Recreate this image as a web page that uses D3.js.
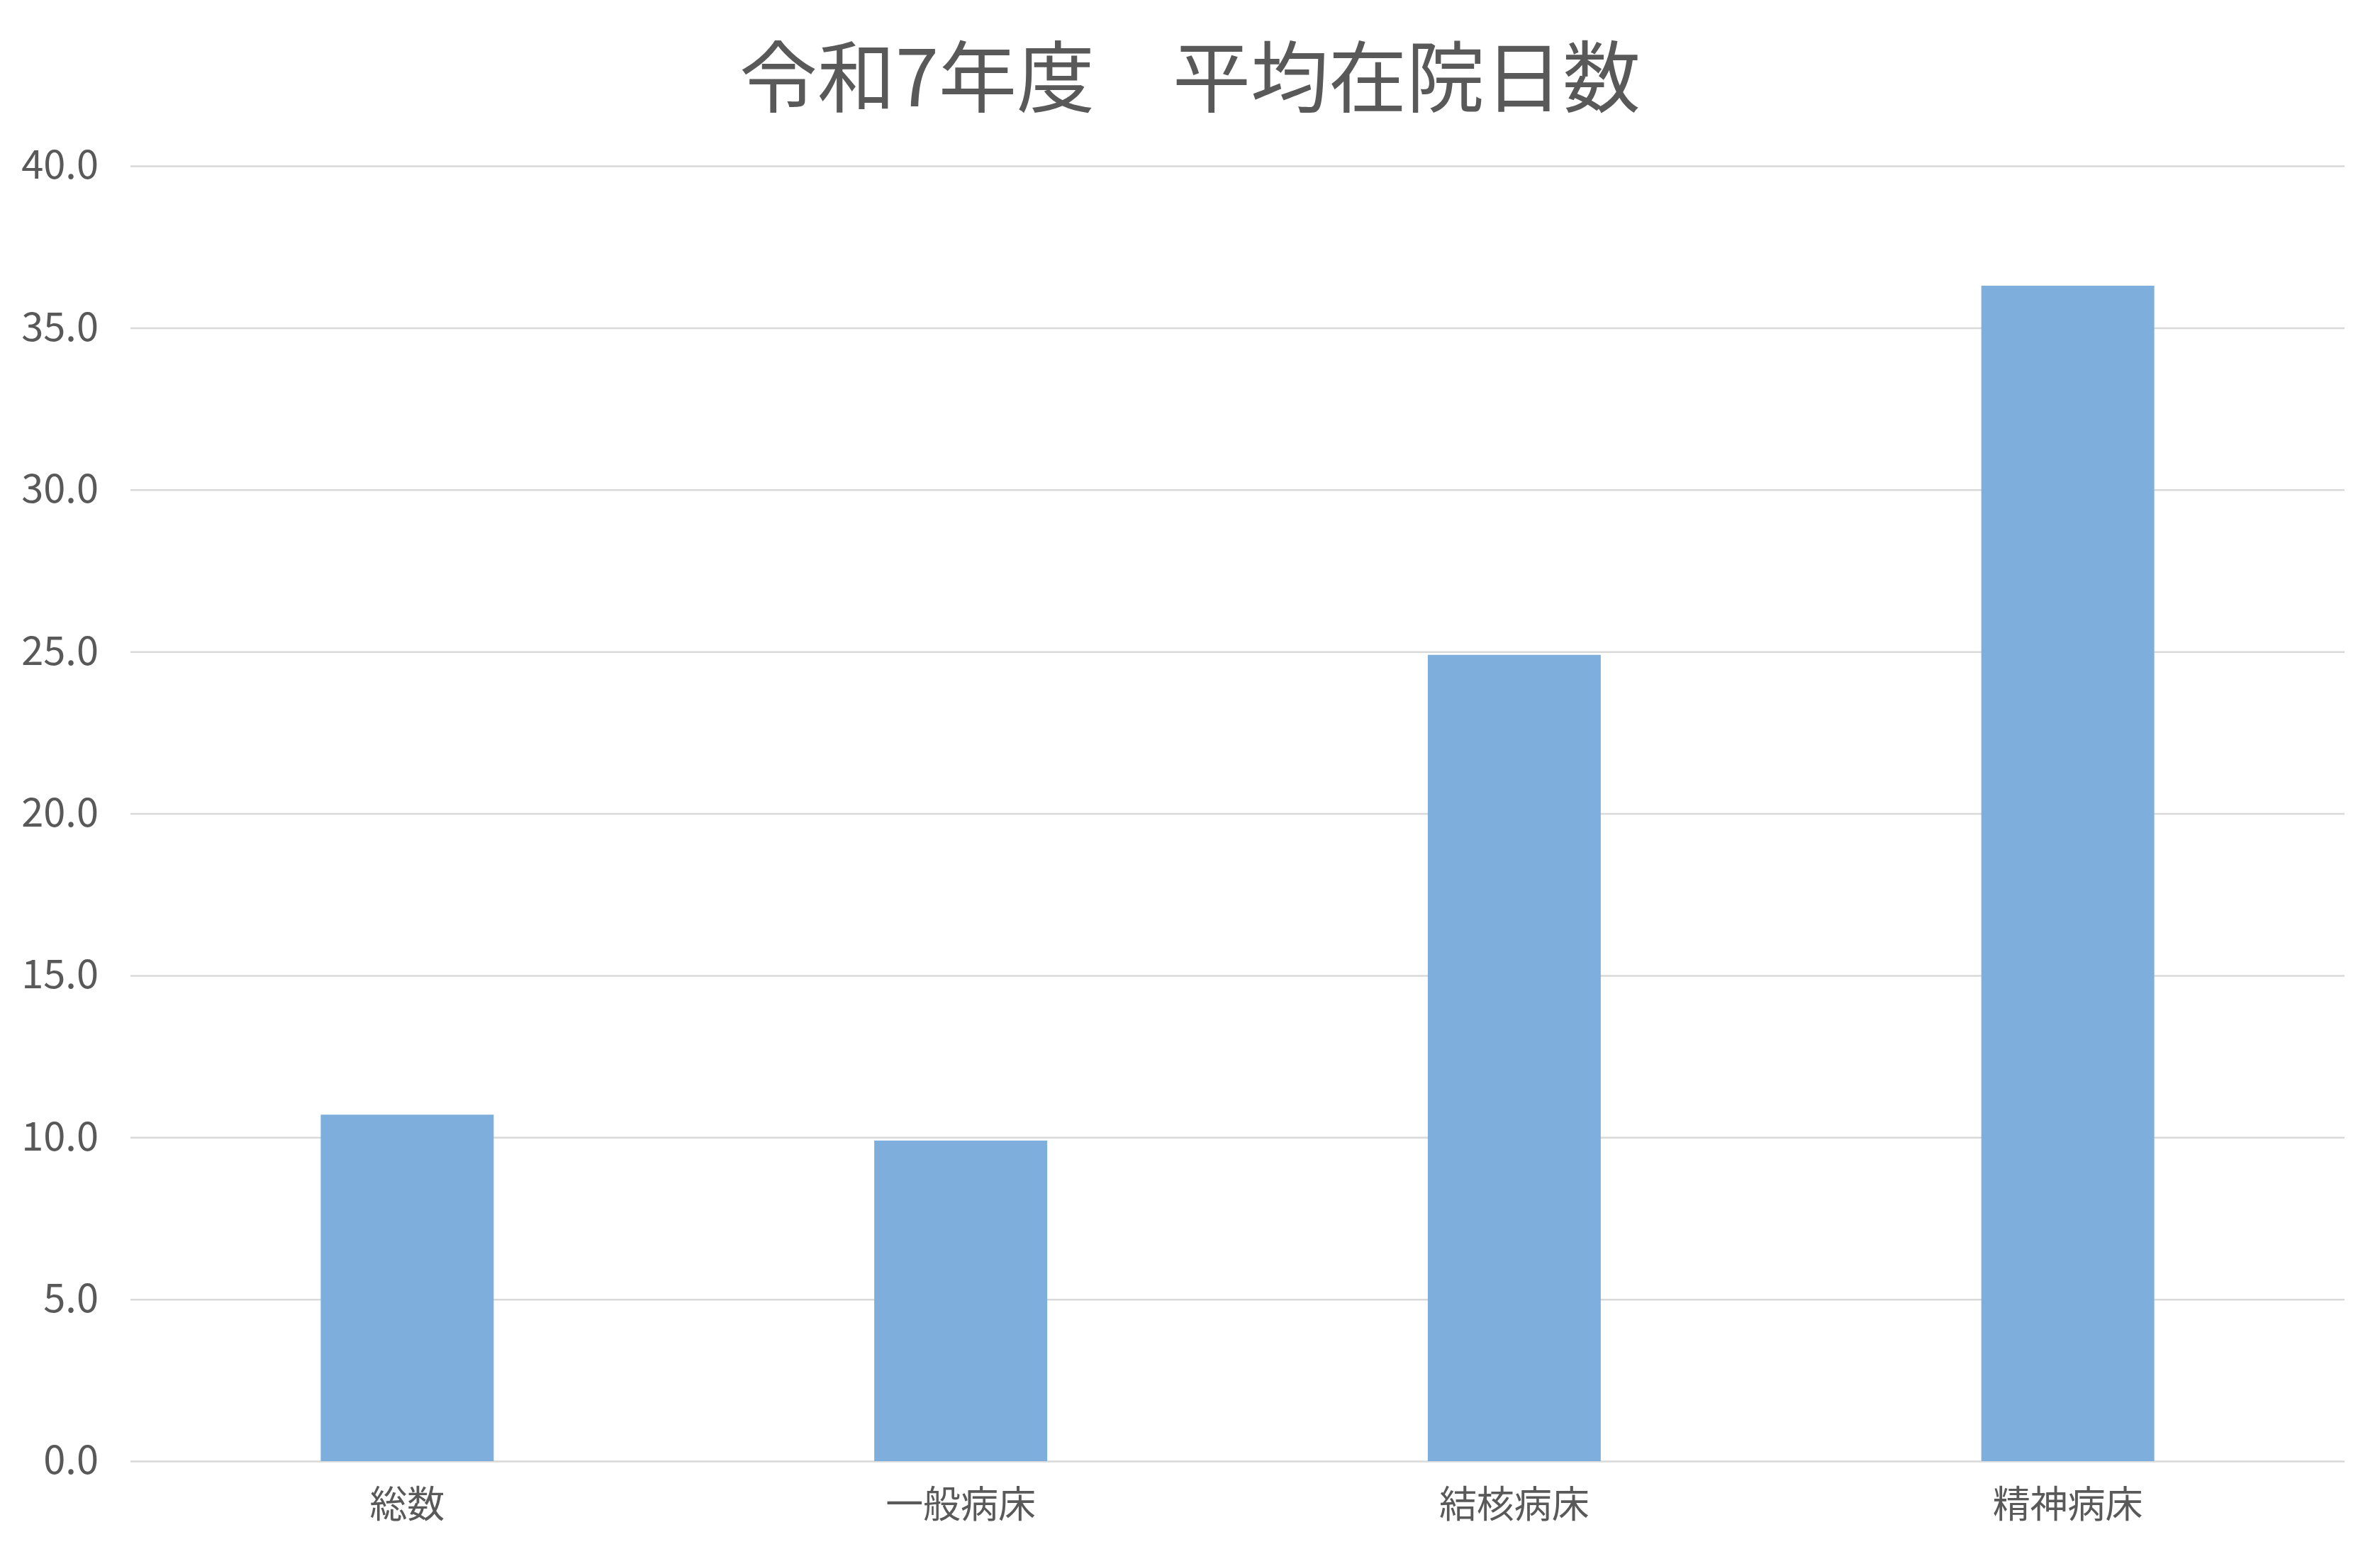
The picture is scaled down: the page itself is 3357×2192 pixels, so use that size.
<!DOCTYPE html>
<html>
<head>
<meta charset="utf-8">
<script src="https://cdn.jsdelivr.net/npm/d3@7"></script>
<style>
  html, body { margin: 0; padding: 0; background: #ffffff; }
  svg { display: block; }
</style>
</head>
<body>
<script>
const titleText = "令和7年度　平均在院日数";
const categories = ["総数", "一般病床", "結核病床", "精神病床"];
const values = [10.7, 9.9, 24.9, 36.3];
const yTicks = [0, 5, 10, 15, 20, 25, 30, 35, 40];

const W = 3357, H = 2192;
const plotLeft = 184, plotRight = 3307, plotTop = 234, plotBottom = 2061;
const font = "'Noto Sans CJK JP', 'Noto Sans', sans-serif";
const textColor = "#595959";

const svg = d3.select("body").append("svg")
  .attr("width", W).attr("height", H)
  .attr("viewBox", `0 0 ${W} ${H}`);

svg.append("rect").attr("width", W).attr("height", H).attr("fill", "#ffffff");

const x = d3.scaleBand().domain(categories).range([plotLeft, plotRight])
  .paddingInner(0.6875).paddingOuter(0.34375);
const y = d3.scaleLinear().domain([0, 40]).range([plotBottom, plotTop]);

// gridlines + y tick labels
const yAxis = svg.append("g")
  .attr("transform", `translate(${plotLeft},0)`)
  .call(d3.axisLeft(y).tickValues(yTicks).tickFormat(d3.format(".1f"))
    .tickSize(-(plotRight - plotLeft)).tickPadding(45));
yAxis.select(".domain").remove();
yAxis.selectAll(".tick line").attr("stroke", "#d9d9d9").attr("stroke-width", 2.5);
yAxis.selectAll(".tick text")
  .attr("fill", textColor)
  .style("font-family", font)
  .style("font-size", "56px");

// bars
svg.append("g").selectAll("rect").data(categories).join("rect")
  .attr("x", d => x(d))
  .attr("width", x.bandwidth())
  .attr("y", (d, i) => y(values[i]))
  .attr("height", (d, i) => y(0) - y(values[i]))
  .attr("fill", "#7daedc");

// x axis labels
const xAxis = svg.append("g")
  .attr("transform", `translate(0,${plotBottom})`)
  .call(d3.axisBottom(x).tickSize(0).tickPadding(42));
xAxis.select(".domain").remove();
xAxis.selectAll(".tick text")
  .attr("fill", textColor)
  .style("font-family", font)
  .style("font-size", "53px");

// title
svg.append("text")
  .attr("x", W / 2).attr("y", 102)
  .attr("text-anchor", "middle")
  .attr("dominant-baseline", "central")
  .attr("fill", textColor)
  .style("font-family", font)
  .style("font-size", "110px")
  .text(titleText);
</script>
</body>
</html>
